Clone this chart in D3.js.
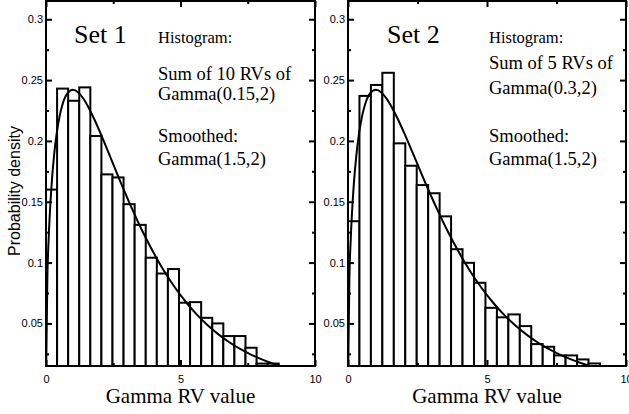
<!DOCTYPE html>
<html>
<head>
<meta charset="utf-8">
<script src="https://cdn.jsdelivr.net/npm/d3@7"></script>
<style>
  html, body { margin: 0; padding: 0; background: #fff; }
  svg { display: block; }
  .serif { font-family: "Liberation Serif", "Times New Roman", serif; fill: #000; }
  .tick text { font-family: "Liberation Sans Narrow", "Liberation Sans", Arial, sans-serif; font-size: 11px; fill: #000; }
</style>
</head>
<body>
<svg id="chart" width="629" height="414"></svg>
<script>
// Histogram bins: each set starts at 0 with equal-width bins
const binStart = 0;
const binWidth = 0.412;

// Set 1: sum of 10 Gamma(0.15,2) variables, density per bin
const set1Density = [0.160, 0.243, 0.233, 0.244, 0.204, 0.1725, 0.170, 0.148, 0.131, 0.104,
  0.091, 0.0947, 0.067, 0.0675, 0.0546, 0.050, 0.0396, 0.0396, 0.030, 0.017, 0.017];

// Set 2: sum of 5 Gamma(0.3,2) variables, density per bin
const set2Density = [0.134, 0.237, 0.246, 0.256, 0.198, 0.1796, 0.1637, 0.157, 0.138, 0.111,
  0.0998, 0.0834, 0.0628, 0.055, 0.0574, 0.0478, 0.033, 0.0308, 0.0237, 0.0237, 0.0204, 0.0171];

// Smoothed density, Gamma(1.5,2)
const smoothX = [0, 0.05, 0.1, 0.2, 0.3, 0.4, 0.5, 0.6, 0.8, 1.0, 1.2, 1.4, 1.6, 1.8, 2.0,
  2.4, 2.8, 3.2, 3.6, 4.0, 4.4, 4.8, 5.2, 5.6, 6.0, 6.4, 6.8, 7.2, 7.6, 8.0, 8.4, 8.8, 9.2];
const smoothY = [0, 0.087, 0.120, 0.1614, 0.1881, 0.2066, 0.2197, 0.2289, 0.2392, 0.2420, 0.2398,
  0.2344, 0.2267, 0.2176, 0.2076, 0.1862, 0.1646, 0.1441, 0.1251, 0.1080, 0.0927, 0.0793,
  0.0676, 0.0574, 0.0487, 0.0412, 0.0347, 0.0292, 0.0246, 0.0207, 0.0173, 0.0145, 0.0122];

// Axis ticks and labels
const xTicks = [0, 5, 10];
const xMinorTicks = [2.5, 7.5];
const yTicks = [0.05, 0.1, 0.15, 0.2, 0.25, 0.3];
const yMinorTicks = [0.025, 0.075, 0.125, 0.175, 0.225, 0.275];
const xDomain = [0, 10];
const yDomain = [0.015, 0.315];

// Panel annotations
const setNames = ["Set 1", "Set 2"];
const histLines = [["Sum of 10 RVs of", "Gamma(0.15,2)"], ["Sum of 5 RVs of", "Gamma(0.3,2)"]];
const smoothLabel = "Gamma(1.5,2)";
const xTitle = "Gamma RV value";
const yTitle = "Probability density";

const svg = d3.select("#chart");

const panels = [
  { x0: 46, x1: 315, data: set1Density, textX: 158, setX: 74, histY: [80, 100] },
  { x0: 348, x1: 626, data: set2Density, textX: 489, setX: 387, histY: [69, 94] }
];
const plotTop = 1, plotBottom = 366;

panels.forEach((p, i) => {
  const x = d3.scaleLinear().domain(xDomain).range([p.x0, p.x1]);
  const y = d3.scaleLinear().domain(yDomain).range([plotBottom, plotTop]);

  const clipId = "clip" + i;
  svg.append("clipPath").attr("id", clipId)
    .append("rect").attr("x", p.x0).attr("y", plotTop)
    .attr("width", p.x1 - p.x0).attr("height", plotBottom - plotTop);

  const g = svg.append("g").attr("clip-path", `url(#${clipId})`);

  // histogram bars
  g.selectAll("rect.bar").data(p.data).join("rect")
    .attr("class", "bar")
    .attr("x", (d, j) => x(binStart + j * binWidth))
    .attr("width", (d, j) => x(binStart + (j + 1) * binWidth) - x(binStart + j * binWidth))
    .attr("y", d => y(d))
    .attr("height", d => y(yDomain[0]) - y(d) + 4)
    .attr("fill", "#fff")
    .attr("stroke", "#000")
    .attr("stroke-width", 2);

  // smoothed density
  const line = d3.line()
    .x((d, j) => x(smoothX[j]))
    .y(d => y(d))
    .curve(d3.curveMonotoneX);
  g.append("path").datum(smoothY)
    .attr("d", line)
    .attr("fill", "none")
    .attr("stroke", "#000")
    .attr("stroke-width", 2);

  // axes with inward ticks
  const major = 6, minor = 3;
  svg.append("g").attr("transform", `translate(${p.x0},0)`)
    .call(d3.axisLeft(y).tickValues(yTicks).tickSize(-major).tickPadding(3)
      .tickFormat(d3.format("~g")))
    .call(a => a.select(".domain").remove());
  svg.append("g").attr("transform", `translate(${p.x0},0)`)
    .call(d3.axisLeft(y).tickValues(yMinorTicks).tickSize(-minor).tickFormat(""))
    .call(a => a.select(".domain").remove());
  svg.append("g").attr("transform", `translate(${p.x1},0)`)
    .call(d3.axisRight(y).tickValues(yTicks).tickSize(-major).tickFormat(""))
    .call(a => a.select(".domain").remove());
  svg.append("g").attr("transform", `translate(${p.x1},0)`)
    .call(d3.axisRight(y).tickValues(yMinorTicks).tickSize(-minor).tickFormat(""))
    .call(a => a.select(".domain").remove());

  svg.append("g").attr("transform", `translate(0,${plotBottom})`)
    .call(d3.axisBottom(x).tickValues(xTicks).tickSize(-major).tickPadding(9)
      .tickFormat(d3.format("d")))
    .call(a => a.select(".domain").remove());
  svg.append("g").attr("transform", `translate(0,${plotBottom})`)
    .call(d3.axisBottom(x).tickValues(xMinorTicks).tickSize(-minor).tickFormat(""))
    .call(a => a.select(".domain").remove());
  svg.append("g").attr("transform", `translate(0,${plotTop})`)
    .call(d3.axisTop(x).tickValues(xTicks).tickSize(-major).tickFormat(""))
    .call(a => a.select(".domain").remove());
  svg.append("g").attr("transform", `translate(0,${plotTop})`)
    .call(d3.axisTop(x).tickValues(xMinorTicks).tickSize(-minor).tickFormat(""))
    .call(a => a.select(".domain").remove());

  svg.selectAll(".tick line").attr("stroke", "#000").attr("stroke-width", 2);

  // frame
  svg.append("rect")
    .attr("x", p.x0).attr("y", plotTop)
    .attr("width", p.x1 - p.x0).attr("height", plotBottom - plotTop)
    .attr("fill", "none").attr("stroke", "#000").attr("stroke-width", 2);

  // annotations
  svg.append("text").attr("class", "serif")
    .attr("x", p.setX).attr("y", 43).attr("font-size", 26).text(setNames[i]);
  svg.append("text").attr("class", "serif")
    .attr("x", p.textX).attr("y", 43).attr("font-size", 16.5).text("Histogram:");
  histLines[i].forEach((t, k) => {
    svg.append("text").attr("class", "serif")
      .attr("x", p.textX).attr("y", p.histY[k]).attr("font-size", 18.5).text(t);
  });
  svg.append("text").attr("class", "serif")
    .attr("x", p.textX).attr("y", 141.5).attr("font-size", 18.5).text("Smoothed:");
  svg.append("text").attr("class", "serif")
    .attr("x", p.textX).attr("y", 165).attr("font-size", 18.5).text(smoothLabel);

  svg.append("text").attr("class", "serif")
    .attr("x", x(5)).attr("y", 403).attr("text-anchor", "middle")
    .attr("font-size", 21).text(xTitle);
});

svg.append("text")
  .attr("transform", "translate(20,191) rotate(-90)")
  .attr("text-anchor", "middle")
  .attr("font-family", "'Liberation Sans', Arial, sans-serif")
  .attr("font-size", 16)
  .attr("fill", "#000")
  .text(yTitle);
</script>
</body>
</html>
